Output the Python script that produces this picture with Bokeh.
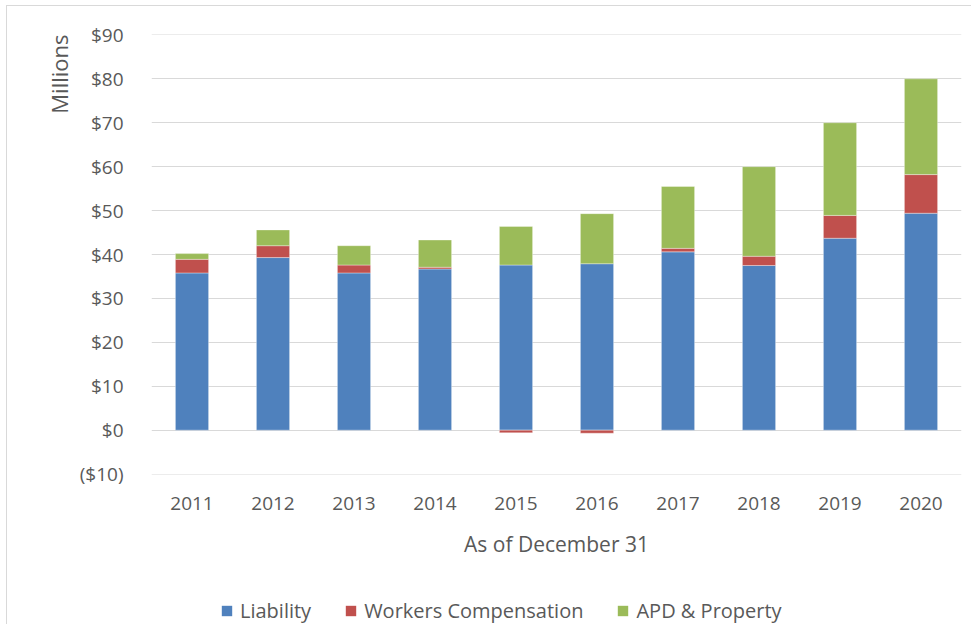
from bokeh.plotting import figure
from bokeh.layouts import column
from bokeh.models import ColumnDataSource, FixedTicker, Legend, LegendItem, Title, Range1d
from bokeh.embed import file_html
from bokeh.resources import INLINE

years = ["2011", "2012", "2013", "2014", "2015", "2016", "2017", "2018", "2019", "2020"]
liability = [35.8, 39.3, 35.8, 36.7, 37.6, 37.9, 40.6, 37.5, 43.7, 49.4]
workers_comp = [3.1, 2.7, 1.8, 0.4, -0.6, -0.7, 0.8, 2.1, 5.2, 8.8]
apd_property = [1.3, 3.6, 4.4, 6.2, 8.8, 11.4, 14.1, 20.4, 21.1, 21.8]
series_names = ["Liability", "Workers Compensation", "APD & Property"]
y_ticks = [-10, 0, 10, 20, 30, 40, 50, 60, 70, 80, 90]
y_tick_labels = ["($10)", "$0", "$10", "$20", "$30", "$40", "$50", "$60", "$70", "$80", "$90"]

colors = ["#4f81bd", "#c0504d", "#9bbb59"]
FONT = "Open Sans"
TXT = "#595959"

# Excel-style stacking: positives stack upward, negatives downward from zero
series = [liability, workers_comp, apd_property]
pos_base = [0.0] * len(years)
neg_base = [0.0] * len(years)
sources = []
for vals in series:
    bottoms, tops = [], []
    for i, v in enumerate(vals):
        if v >= 0:
            bottoms.append(pos_base[i]); tops.append(pos_base[i] + v); pos_base[i] += v
        else:
            bottoms.append(neg_base[i]); tops.append(neg_base[i] + v); neg_base[i] += v
    sources.append(ColumnDataSource(dict(x=years, bottom=bottoms, top=tops)))

p = figure(x_range=years, y_range=Range1d(-10.1, 90.1), width=964, height=572,
           frame_width=810, frame_height=440,
           min_border_left=144, min_border_right=10, min_border_top=28, min_border_bottom=0,
           output_backend="svg", toolbar_location=None)
p.outline_line_color = None
p.background_fill_color = "white"
p.border_fill_color = "white"

for src, c in zip(sources, colors):
    p.vbar(x="x", bottom="bottom", top="top", width=0.41, source=src,
           fill_color=c, line_color="white", line_alpha=0.35, line_width=1)

# grid
p.xgrid.grid_line_color = None
p.ygrid.grid_line_color = "#d9d9d9"
p.ygrid.grid_line_width = 1
p.ygrid.level = "underlay"

# y axis
p.yaxis.ticker = FixedTicker(ticks=y_ticks)
p.yaxis.major_label_overrides = {t: l for t, l in zip(y_ticks, y_tick_labels)}
p.yaxis.axis_line_color = None
p.yaxis.major_tick_line_color = None
p.yaxis.minor_tick_line_color = None
p.yaxis.major_tick_out = 0
p.yaxis.major_tick_in = 0
p.yaxis.minor_tick_out = 0
p.yaxis.major_label_standoff = 28
p.yaxis.major_label_text_font = FONT
p.yaxis.major_label_text_font_size = "19px"
p.yaxis.major_label_text_color = TXT

# x axis
p.xaxis.axis_line_color = None
p.xaxis.major_tick_line_color = None
p.xaxis.major_tick_out = 0
p.xaxis.major_tick_in = 0
p.xaxis.major_label_standoff = 22
p.xaxis.major_label_text_font = FONT
p.xaxis.major_label_text_font_size = "19px"
p.xaxis.major_label_text_color = TXT
p.xaxis.axis_label = "As of December 31"
p.xaxis.axis_label_standoff = 17
p.xaxis.axis_label_text_font = FONT
p.xaxis.axis_label_text_font_size = "21px"
p.xaxis.axis_label_text_font_style = "normal"
p.xaxis.axis_label_text_color = TXT

# "Millions" title at the top of the left side
p.add_layout(Title(text="Millions", align="right", text_font=FONT, text_font_size="22px",
                   text_font_style="normal", text_color=TXT, standoff=5, offset=0), "left")

# legend strip below the chart (swatch glyphs sit outside the strip's visible range)
pl = figure(width=964, height=64, x_range=(0, 1), y_range=(0, 1),
            min_border_left=0, min_border_right=0, min_border_top=0, min_border_bottom=0,
            x_axis_location=None, y_axis_location=None,
            output_backend="svg", toolbar_location=None)
pl.outline_line_color = None
pl.xgrid.grid_line_color = None
pl.ygrid.grid_line_color = None
pl.background_fill_color = "white"
pl.border_fill_color = "white"
leg_renderers = [pl.vbar(x=[-5], bottom=[-5], top=[-4], width=0.1, fill_color=c, line_color=None)
                 for c in colors]
legend = Legend(items=[LegendItem(label=n, renderers=[r]) for n, r in zip(series_names, leg_renderers)],
                orientation="horizontal", location=(69, 0),
                glyph_width=13, glyph_height=13, label_standoff=7, spacing=33,
                padding=0, margin=0, border_line_color=None, background_fill_alpha=0,
                label_text_font=FONT, label_text_font_size="20px", label_text_color=TXT)
pl.add_layout(legend, "center")

layout = column(p, pl, spacing=0)
layout.styles = {"border-left": "1px solid #d9d9d9", "border-top": "1px solid #d9d9d9",
                 "margin-left": "6px", "margin-top": "5px"}

open("out.html", "w").write(file_html(layout, INLINE))
